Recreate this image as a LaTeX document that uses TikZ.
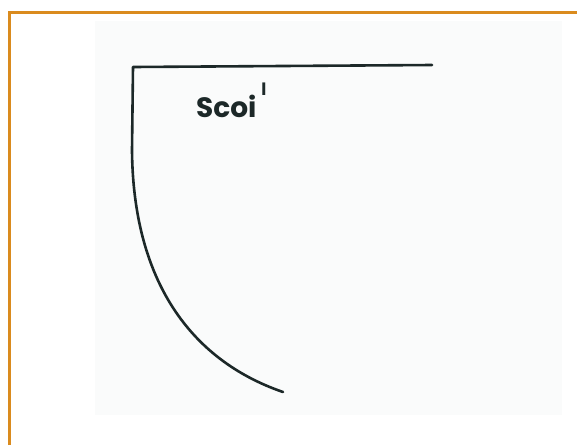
\documentclass[tikz,border=0pt]{standalone}
\usepackage{fontspec}
\setsansfont{Poppins}
\definecolor{frameorange}{RGB}{218,139,30}
\definecolor{paper}{RGB}{250,251,251}
\definecolor{ink}{RGB}{28,40,40}
\begin{document}
\begin{tikzpicture}[x=1pt,y=-1pt,
    frame/.style={draw=frameorange,line width=3pt},
    pen/.style={draw=ink,line width=2.6pt,line cap=round,line join=round}]
        \useasboundingbox (0,0) rectangle (577,445);
        \fill[white] (0,0) rectangle (577,445);
        \fill[paper] (95,21) rectangle (562,415);
        % frame
        \draw[frame] (9,445) -- (9,12) -- (577,12);
        % sketch
        \coordinate (top right) at (432,65);
        \coordinate (corner) at (133,67);
        \coordinate (bend) at (132,150);
        \coordinate (bottom) at (283,392);
        \draw[pen] (top right) -- (corner) -- (bend)
            .. controls (133,280) and (190,360) .. (bottom);
        \node[anchor=base west,inner sep=0pt,
            font=\sffamily\bfseries\fontsize{28}{28}\selectfont,text=ink]
            (label) at (196,117) {Scoi\hspace{5pt}\raisebox{22pt}{\fontsize{17}{17}\selectfont l}};
    \end{tikzpicture}
\end{document}
